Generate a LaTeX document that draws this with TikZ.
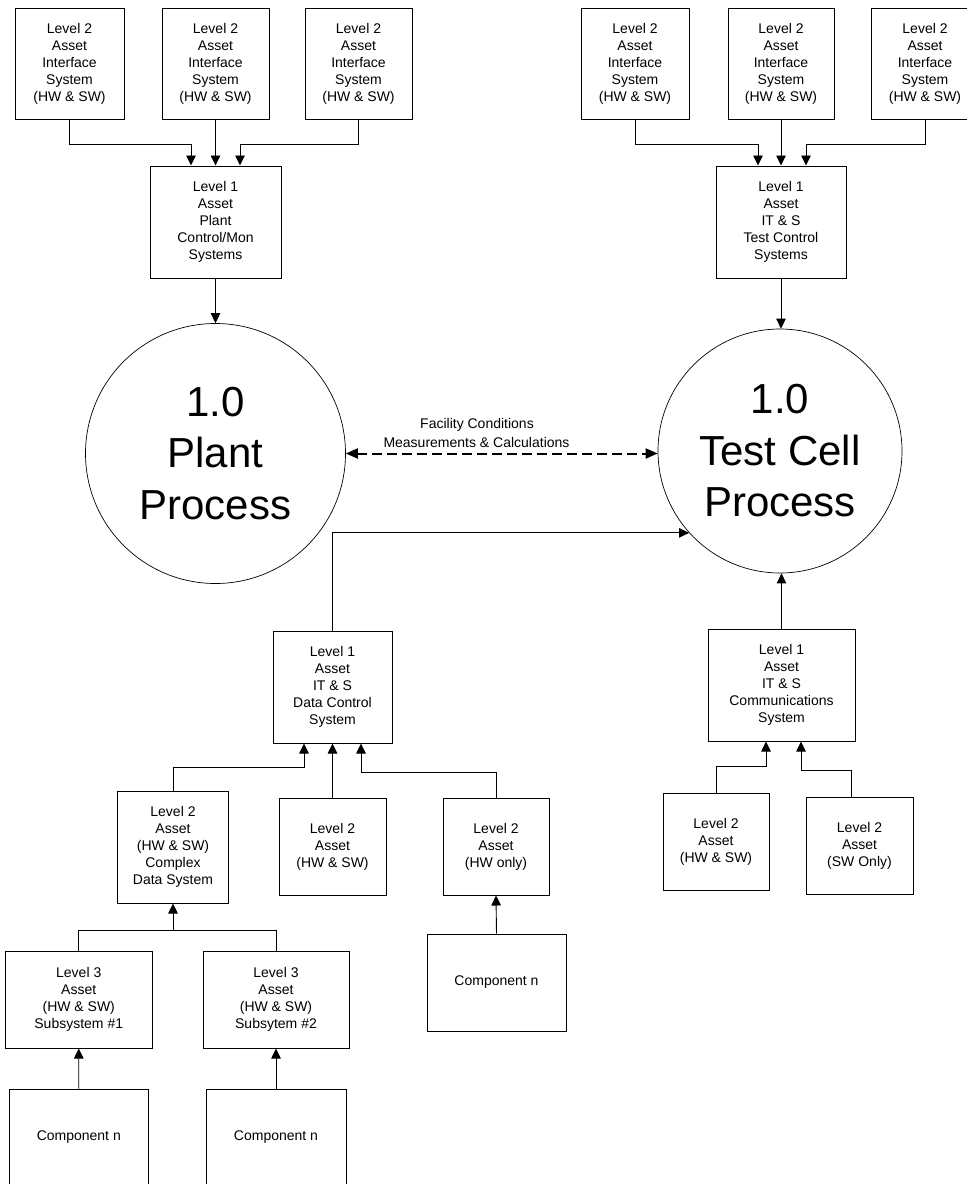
\documentclass[tikz,border=0pt]{standalone}
\usepackage{fontspec}
\setmainfont{Liberation Sans}
\usetikzlibrary{arrows.meta,calc}
\begin{document}
\begin{tikzpicture}[x=1pt,y=-1pt,
  box/.style={draw, line width=1pt, inner sep=0pt, align=center, font=\fontsize{14}{17}\selectfont},
  proc/.style={draw, circle, line width=0.7pt, inner sep=0pt, align=center, font=\fontsize{42}{51.5}\selectfont},
  conn/.style={line width=0.9pt, -{Triangle[length=10pt,width=9.5pt]}},
  plain/.style={line width=0.9pt},
  dashconn/.style={line width=2pt, dash pattern=on 10pt off 5pt, {Triangle[length=12pt,width=10pt]}-{Triangle[length=12pt,width=10pt]}},
  lbl/.style={font=\fontsize{14}{17}\selectfont, inner sep=0pt, anchor=base}]
\useasboundingbox (0,0) rectangle (967,1184);
\clip (0,0) rectangle (967,1184);

% top left group
\node[box, minimum width=109pt, minimum height=111pt] (t1) at (69.5,63.5) {Level 2\\Asset\\Interface\\System\\(HW \& SW)};
\node[box, minimum width=107pt, minimum height=111pt] (t2) at (215.5,63.5) {Level 2\\Asset\\Interface\\System\\(HW \& SW)};
\node[box, minimum width=107pt, minimum height=111pt] (t3) at (358.5,63.5) {Level 2\\Asset\\Interface\\System\\(HW \& SW)};
\node[box, minimum width=131pt, minimum height=112pt] (lp) at (215.5,222) {Level 1\\Asset\\Plant\\Control/Mon\\Systems};

% top right group
\node[box, minimum width=108pt, minimum height=111pt] (t4) at (635,63.5) {Level 2\\Asset\\Interface\\System\\(HW \& SW)};
\node[box, minimum width=106pt, minimum height=111pt] (t5) at (781,63.5) {Level 2\\Asset\\Interface\\System\\(HW \& SW)};
\node[box, minimum width=108pt, minimum height=111pt] (t6) at (925,63.5) {Level 2\\Asset\\Interface\\System\\(HW \& SW)};
\node[box, minimum width=130pt, minimum height=112pt] (lt) at (781,222) {Level 1\\Asset\\IT \& S\\Test Control\\Systems};

% processes
\node[proc, minimum size=260pt] (pc) at (215.5,453.5) {1.0\\Plant\\Process};
\node[proc, minimum size=244pt] (tc) at (780,451) {1.0\\Test Cell\\Process};

% lower boxes
\node[box, minimum width=119pt, minimum height=112pt] (dc) at (332.5,687) {Level 1\\Asset\\IT \& S\\Data Control\\System};
\node[box, minimum width=147pt, minimum height=112pt] (cm) at (781.5,685) {Level 1\\Asset\\IT \& S\\Communications\\System};
\node[box, minimum width=111pt, minimum height=112pt] (cx) at (173,847) {Level 2\\Asset\\(HW \& SW)\\Complex\\Data System};
\node[box, minimum width=107pt, minimum height=97pt] (hs) at (332.5,846.5) {Level 2\\Asset\\(HW \& SW)};
\node[box, minimum width=106pt, minimum height=97pt] (ho) at (496,846.5) {Level 2\\Asset\\(HW only)};
\node[box, minimum width=106pt, minimum height=97pt] (r1) at (716,841.5) {Level 2\\Asset\\(HW \& SW)};
\node[box, minimum width=107pt, minimum height=97pt] (r2) at (859.5,845.5) {Level 2\\Asset\\(SW Only)};
\node[box, minimum width=139pt, minimum height=97pt] (c3) at (496.5,982.5) {Component n};
\node[box, minimum width=147.5pt, minimum height=97pt] (l3a) at (78.75,999.5) {Level 3\\Asset\\(HW \& SW)\\Subsystem \#1};
\node[box, minimum width=146pt, minimum height=97pt] (l3b) at (276,999.5) {Level 3\\Asset\\(HW \& SW)\\Subsytem \#2};
\node[box, minimum width=139.6pt, minimum height=97pt] (c1) at (78.8,1137.5) {Component n};
\node[box, minimum width=140pt, minimum height=97pt] (c2) at (276,1137.5) {Component n};

% top connectors
\draw[conn] (t1.south) -- ++(0,25) -| ($(lp.north)+(-24.5,0)$);
\draw[conn] (t2.south) -- (lp.north);
\draw[conn] (t3.south) -- ++(0,25) -| ($(lp.north)+(24.5,0)$);
\draw[conn] (t4.south) -- ++(0,25) -| ($(lt.north)+(-23,0)$);
\draw[conn] (t5.south) -- (lt.north);
\draw[conn] (t6.south) -- ++(0,25) -| ($(lt.north)+(25,0)$);
\draw[conn] (lp.south) -- (pc.north);
\draw[conn] (lt.south) -- (lt.south |- tc.north);

% dashed exchange
\draw[dashconn] (pc.east) -- (pc.east -| tc.west);
\node[lbl] (f1) at (477,428) {Facility Conditions};
\node[lbl] (f2) at (476.5,447) {Measurements \& Calculations};

% lower connectors
\draw[conn] (dc.north) |- (tc.222);
\draw[conn] (cm.north) -- (cm.north |- tc.south);
\draw[conn] (cx.north) -- ++(0,-23) -| ($(dc.south)+(-28.5,0)$);
\draw[conn] (hs.north) -- (dc.south);
\draw[conn] (ho.north) -- ++(0,-25) -| ($(dc.south)+(28.5,0)$);
\draw[conn] (c3.north) -- (ho.south);
\draw[plain] (l3a.north) -- ++(0,-20) -| (l3b.north);
\coordinate (j) at (173,931);
\draw[conn] (j) -- (cx.south);
\draw[conn] (c1.north) -- (l3a.south);
\draw[conn] (c2.north) -- (l3b.south);
\draw[conn] (r1.north) -- ++(0,-26) -| ($(cm.south)+(-15.5,0)$);
\draw[conn] ($(r2.north)+(-8.5,0)$) -- ++(0,-26) -| ($(cm.south)+(19.5,0)$);
\end{tikzpicture}
\end{document}
